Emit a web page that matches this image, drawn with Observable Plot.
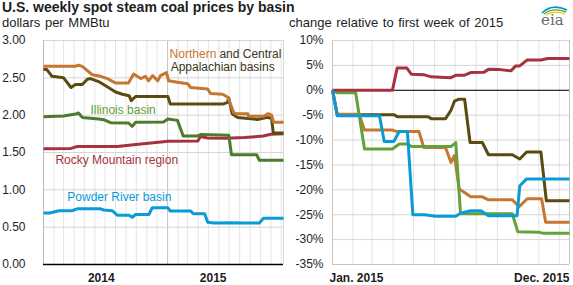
<!DOCTYPE html>
<html><head><meta charset="utf-8">
<script src="https://cdn.jsdelivr.net/npm/d3@7"></script>
<script src="https://cdn.jsdelivr.net/npm/@observablehq/plot@0.6"></script>
<style>
body{margin:0;background:#fff;font-family:"Liberation Sans",Arial,sans-serif;color:#1e1e1e;}
#wrap{position:relative;width:573px;height:285px;overflow:hidden;background:#fff;}
.t{position:absolute;white-space:nowrap;}
#title{left:2px;top:0px;font-size:14px;line-height:14px;font-weight:bold;}
#sub1{left:2px;top:16px;font-size:13px;line-height:13px;word-spacing:1px;}
#sub2{left:289px;top:16px;font-size:13px;line-height:13px;word-spacing:1px;}
#left{position:absolute;left:0;top:30px;}
#right{position:absolute;left:285px;top:30px;}
#logo{position:absolute;left:536px;top:2px;}
</style></head>
<body>
<div id="wrap">
  <div class="t" id="title">U.S. weekly spot steam coal prices by basin</div>
  <div class="t" id="sub1">dollars per MMBtu</div>
  <div class="t" id="sub2">change relative to first week of 2015</div>
  <svg id="logo" width="34" height="26" viewBox="0 0 34 26">
    <path d="M6 11 Q16 1 31 8" fill="none" stroke="#0096d7" stroke-width="1.6"/>
    <path d="M8 12 Q17 5 30 10" fill="none" stroke="#5fa33a" stroke-width="1.4"/>
    <path d="M10 13 Q18 8 29 12" fill="none" stroke="#f2c200" stroke-width="1.2"/>
    <text x="5" y="23" font-family="DejaVu Serif, serif" font-size="15" fill="#6a6a6a">eia</text>
  </svg>
  <div id="left"></div>
  <div id="right"></div>
</div>
<script>
// ---------- data ----------
const leftDomainDates = ["2014-01-01", "2015-12-08"];
const rightDomainDates = ["2015-01-02", "2015-12-16"];
const priceTicks = [0, 0.5, 1, 1.5, 2, 2.5, 3];
const pctTicks = [10, 5, 0, -5, -10, -15, -20, -25, -30, -35];
const yearTickDates = ["2014-06-20", "2015-05-15"];
const rightTickLabels = ["Jan. 2015", "Dec. 2015"];

// Left chart: dollars per MMBtu
const priceNorthernApp = [["2014-01-01",2.655],["2014-04-05",2.655],["2014-04-14",2.67],["2014-04-26",2.65],["2014-05-25",2.54],["2014-06-18",2.52],["2014-07-08",2.49],["2014-08-01",2.43],["2014-09-08",2.43],["2014-09-23",2.55],["2014-10-14",2.49],["2014-10-28",2.52],["2014-11-06",2.46],["2014-11-18",2.53],["2014-12-03",2.46],["2014-12-11",2.53],["2014-12-29",2.57],["2015-01-04",2.46],["2015-01-30",2.44],["2015-03-01",2.42],["2015-03-10",2.37],["2015-04-29",2.35],["2015-05-07",2.29],["2015-06-12",2.28],["2015-06-27",2.24],["2015-07-05",2.15],["2015-07-14",2.04],["2015-07-20",2.02],["2015-08-25",2.02],["2015-08-27",1.985],["2015-10-11",1.985],["2015-10-23",2.02],["2015-11-03",2.0],["2015-11-09",1.905],["2015-12-08",1.905]];
const priceCentralApp = [["2014-01-01",2.61],["2014-01-11",2.61],["2014-01-26",2.52],["2014-03-01",2.5],["2014-03-23",2.37],["2014-04-05",2.41],["2014-04-25",2.41],["2014-05-10",2.48],["2014-05-19",2.49],["2014-06-12",2.45],["2014-07-11",2.37],["2014-08-01",2.31],["2014-08-21",2.28],["2014-09-10",2.26],["2014-09-16",2.195],["2014-09-29",2.25],["2015-01-02",2.25],["2015-01-09",2.15],["2015-06-15",2.15],["2015-06-26",2.17],["2015-06-30",2.23],["2015-07-10",2.02],["2015-07-25",1.97],["2015-09-11",1.95],["2015-09-22",1.94],["2015-10-22",1.97],["2015-11-03",1.96],["2015-11-08",1.76],["2015-12-08",1.76]];
const priceIllinois = [["2014-01-01",1.98],["2014-03-01",1.99],["2014-04-10",2.02],["2014-04-14",2.03],["2014-04-25",1.97],["2014-06-12",1.95],["2014-06-27",1.94],["2014-07-17",1.9],["2014-09-08",1.895],["2014-09-19",1.85],["2014-09-29",1.905],["2014-12-20",1.91],["2015-01-02",1.95],["2015-01-30",1.93],["2015-02-16",1.72],["2015-03-29",1.72],["2015-04-08",1.74],["2015-06-30",1.73],["2015-07-08",1.47],["2015-09-20",1.47],["2015-09-28",1.395],["2015-12-08",1.395]];
const priceRockyMtn = [["2014-01-01",1.55],["2014-03-23",1.555],["2014-04-10",1.58],["2014-08-06",1.58],["2014-09-23",1.605],["2014-11-20",1.63],["2014-12-20",1.645],["2015-01-02",1.65],["2015-03-31",1.655],["2015-04-08",1.715],["2015-04-28",1.695],["2015-06-20",1.69],["2015-08-15",1.70],["2015-10-10",1.72],["2015-11-01",1.745],["2015-12-08",1.75]];
const pricePowderRiver = [["2014-01-01",0.69],["2014-01-20",0.69],["2014-02-15",0.72],["2014-03-25",0.72],["2014-04-10",0.745],["2014-06-18",0.745],["2014-06-27",0.73],["2014-07-22",0.72],["2014-08-06",0.66],["2014-09-10",0.66],["2014-09-19",0.633],["2014-09-29",0.67],["2014-11-07",0.67],["2014-11-17",0.76],["2015-01-02",0.76],["2015-01-09",0.715],["2015-03-10",0.715],["2015-03-18",0.68],["2015-04-20",0.68],["2015-04-29",0.567],["2015-05-17",0.557],["2015-07-05",0.56],["2015-08-14",0.557],["2015-09-28",0.557],["2015-10-10",0.62],["2015-12-08",0.62]];

// Right chart: percent change relative to first week of 2015
const pctCentralApp = [["2015-01-02",0],["2015-01-09",-4.9],["2015-04-02",-4.9],["2015-04-07",-5.3],["2015-05-22",-5.3],["2015-05-27",-5.7],["2015-06-17",-5.7],["2015-06-25",-4.0],["2015-06-30",-2.2],["2015-07-07",-1.8],["2015-07-15",-1.8],["2015-07-23",-10.5],["2015-08-10",-10.5],["2015-08-19",-12.95],["2015-09-23",-12.95],["2015-10-04",-13.8],["2015-10-14",-12.4],["2015-11-04",-12.4],["2015-11-12",-22.2],["2015-12-16",-22.2]];
const pctNorthernApp = [["2015-01-02",0],["2015-01-09",-4.8],["2015-02-10",-4.8],["2015-02-18",-8.0],["2015-03-31",-8.0],["2015-04-07",-8.3],["2015-05-09",-8.3],["2015-05-16",-11.5],["2015-06-17",-11.5],["2015-06-25",-14.5],["2015-06-30",-13.1],["2015-07-07",-19.8],["2015-07-10",-20.1],["2015-07-24",-21.4],["2015-08-10",-21.4],["2015-08-19",-22.0],["2015-09-23",-22.0],["2015-10-03",-23.4],["2015-10-15",-21.8],["2015-11-05",-21.8],["2015-11-11",-26.5],["2015-12-16",-26.5]];
const pctIllinois = [["2015-01-02",0],["2015-01-09",-0.5],["2015-02-05",-0.5],["2015-02-18",-11.8],["2015-03-31",-11.8],["2015-04-10",-10.8],["2015-04-22",-10.8],["2015-04-28",-11.3],["2015-06-25",-11.3],["2015-07-02",-10.5],["2015-07-09",-24.8],["2015-09-23",-24.8],["2015-10-01",-28.4],["2015-10-31",-28.5],["2015-11-07",-28.7],["2015-12-16",-28.7]];
const pctRockyMtn = [["2015-01-02",0],["2015-03-31",0],["2015-04-07",4.5],["2015-04-21",4.5],["2015-04-28",3.2],["2015-05-17",3.1],["2015-05-27",2.7],["2015-06-24",2.5],["2015-07-02",3.0],["2015-07-14",3.0],["2015-07-24",3.55],["2015-08-12",3.6],["2015-08-19",4.2],["2015-09-05",4.15],["2015-09-21",3.9],["2015-09-28",4.9],["2015-10-04",4.9],["2015-10-15",6.1],["2015-11-04",6.1],["2015-11-14",6.4],["2015-12-16",6.4]];
const pctPowderRiver = [["2015-01-02",0],["2015-01-09",-5.1],["2015-03-12",-5.1],["2015-03-19",-10.3],["2015-04-02",-10.3],["2015-04-10",-8.3],["2015-04-22",-8.3],["2015-04-30",-25.0],["2015-05-17",-25.0],["2015-06-03",-25.3],["2015-07-02",-25.3],["2015-07-09",-24.7],["2015-07-24",-24.2],["2015-08-08",-24.2],["2015-08-19",-25.2],["2015-09-30",-25.2],["2015-10-04",-19.2],["2015-10-14",-17.8],["2015-12-16",-17.8]];

// Series labels (left chart annotations)
const seriesLabels = [
  {text:"Northern", date:"2015-01-07", value:2.82, anchor:"start", color:"orange"},
  {text:"and Central", date:"2015-12-02", value:2.82, anchor:"end", color:"dark"},
  {text:"Appalachian basins", date:"2015-01-10", value:2.64, anchor:"start", color:"dark"},
  {text:"Illinois basin", date:"2014-05-19", value:2.064, anchor:"start", color:"illinoisText"},
  {text:"Rocky Mountain region", date:"2014-02-05", value:1.403, anchor:"start", color:"red"},
  {text:"Powder River basin", date:"2014-03-12", value:0.904, anchor:"start", color:"blue"}
];

// ---------- styles ----------
const colors = {orange:"#c5772f", brown:"#5b4a12", greenL:"#4e7a2c", greenR:"#63a23a", red:"#a5323e", blue:"#0a9ad9", dark:"#3b3520", illinoisText:"#62a032"};
const font = "Liberation Sans, Arial, sans-serif";
const parse = d3.utcParse("%Y-%m-%d");
const toRows = s => s.map(([d, v]) => ({date: parse(d), value: v}));
const leftDomain = leftDomainDates.map(parse);
const rightDomain = rightDomainDates.map(parse);
const lineOpts = (stroke) => ({x:"date", y:"value", stroke, strokeWidth:3, strokeLinejoin:"round", strokeLinecap:"butt"});

const leftMonths = d3.utcMonth.range(d3.utcMonth.ceil(new Date(leftDomain[0].getTime()+1)), leftDomain[1]);
const yearStart = leftMonths.filter(d => d.getUTCMonth() === 0);
const rightMonths = d3.utcMonth.range(d3.utcMonth.ceil(new Date(rightDomain[0].getTime()+1)), rightDomain[1]);

const startLabels = seriesLabels.filter(d => d.anchor === "start");
const endLabels = seriesLabels.filter(d => d.anchor === "end");

const left = Plot.plot({
  width: 285, height: 255,
  marginLeft: 43, marginRight: 2, marginTop: 10, marginBottom: 21,
  style: {fontFamily: font, fontSize: "12px", color: "#1e1e1e", background: "transparent", overflow: "visible"},
  x: {type: "utc", domain: leftDomain},
  y: {domain: [0, 3]},
  marks: [
    Plot.ruleX(leftMonths, {stroke: "#e4e4e4", strokeWidth: 1}),
    Plot.ruleX(yearStart, {stroke: "#c4c4c4", strokeWidth: 1}),
    Plot.ruleY(priceTicks, {stroke: "#d6d6d6", strokeWidth: 1}),
    Plot.ruleX([leftDomain[0]], {stroke: "#bdbdbd"}),
    Plot.ruleX([leftDomain[1]], {stroke: "#d6d6d6"}),
    Plot.axisY(priceTicks, {tickSize: 0, tickPadding: 18, tickFormat: d3.format(".2f"), fontSize: 12, fill: "#1e1e1e", label: null}),
    Plot.axisX(yearTickDates.map(parse), {tickSize: 0, tickPadding: 9, tickFormat: d3.utcFormat("%Y"), fontSize: 12, fontWeight: "bold", fill: "#1e1e1e", label: null}),
    Plot.line(toRows(priceRockyMtn), lineOpts(colors.red)),
    Plot.line(toRows(pricePowderRiver), lineOpts(colors.blue)),
    Plot.line(toRows(priceIllinois), lineOpts(colors.greenL)),
    Plot.line(toRows(priceCentralApp), lineOpts(colors.brown)),
    Plot.line(toRows(priceNorthernApp), lineOpts(colors.orange)),
    Plot.ruleY([0], {stroke: "#000", strokeWidth: 1.5}),
    Plot.text(startLabels, {x: d => parse(d.date), y: "value", text: "text", textAnchor: "start", fill: d => colors[d.color], fontSize: 12, lineAnchor: "middle"}),
    Plot.text(endLabels, {x: d => parse(d.date), y: "value", text: "text", textAnchor: "end", fill: d => colors[d.color], fontSize: 12, lineAnchor: "middle"})
  ]
});

const right = Plot.plot({
  width: 288, height: 255,
  marginLeft: 47, marginRight: 4, marginTop: 10, marginBottom: 21,
  style: {fontFamily: font, fontSize: "12px", color: "#1e1e1e", background: "transparent", overflow: "visible"},
  x: {type: "utc", domain: rightDomain},
  y: {domain: [-35, 10]},
  marks: [
    Plot.ruleX(rightMonths, {stroke: "#e4e4e4", strokeWidth: 1}),
    Plot.ruleY(pctTicks, {stroke: "#d6d6d6", strokeWidth: 1}),
    Plot.ruleX([rightDomain[0]], {stroke: "#c4c4c4"}),
    Plot.ruleX([rightDomain[1]], {stroke: "#c4c4c4"}),
    Plot.ruleY([-35], {stroke: "#c4c4c4"}),
    Plot.axisY(pctTicks, {tickSize: 0, tickPadding: 9, tickFormat: d => `${d}%`, fontSize: 12, fill: "#1e1e1e", label: null}),
    Plot.axisX([rightDomain[0]], {tickSize: 0, tickPadding: 9, tickFormat: () => rightTickLabels[0], textAnchor: "start", dx: -3, fontSize: 12, fontWeight: "bold", fill: "#1e1e1e", label: null}),
    Plot.axisX([rightDomain[1]], {tickSize: 0, tickPadding: 9, tickFormat: () => rightTickLabels[1], textAnchor: "end", fontSize: 12, fontWeight: "bold", fill: "#1e1e1e", label: null}),
    Plot.ruleY([0], {stroke: "#000", strokeWidth: 1}),
    Plot.line(toRows(pctCentralApp), lineOpts(colors.brown)),
    Plot.line(toRows(pctNorthernApp), lineOpts(colors.orange)),
    Plot.line(toRows(pctIllinois), lineOpts(colors.greenR)),
    Plot.line(toRows(pctRockyMtn), lineOpts(colors.red)),
    Plot.line(toRows(pctPowderRiver), lineOpts(colors.blue))
  ]
});

document.getElementById("left").appendChild(left);
document.getElementById("right").appendChild(right);
</script>
</body></html>
